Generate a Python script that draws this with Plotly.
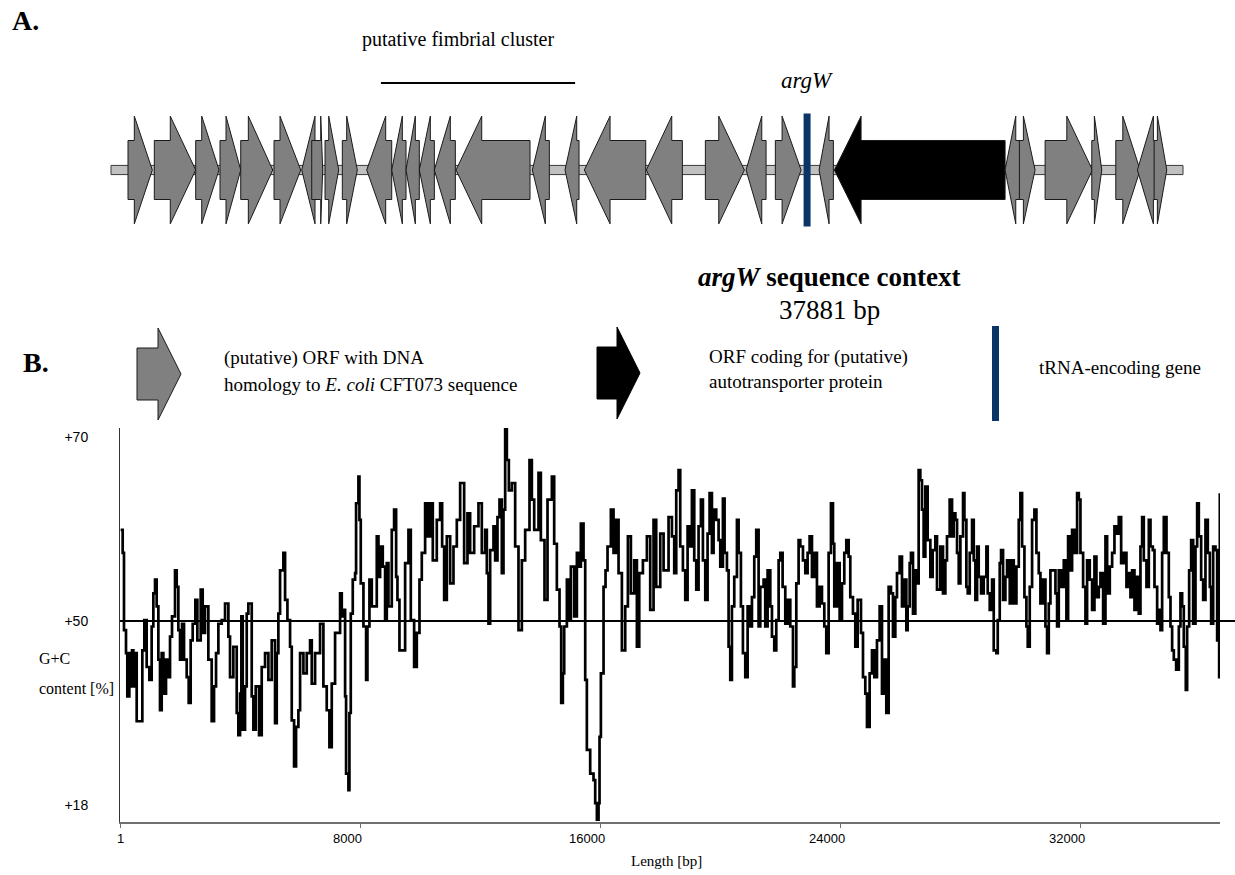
import plotly.graph_objects as go

W, H = 1235, 875

# ---------------- data ----------------
seq_len = 37881  # bp

# G+C profile (sliding window), position [bp] and value on the drawn scale
gc_pos = [22, 89, 133, 200, 244, 311, 356, 400, 444, 500, 556, 689, 744, 811, 889, 978, 1055, 1111, 1167, 1222,
          1278, 1333, 1389, 1444, 1533, 1611, 1667, 1733, 1833, 1889, 1944, 2000, 2066, 2133, 2222, 2289, 2355, 2422,
          2511, 2578, 2689, 2755, 2833, 2944, 3055, 3133, 3200, 3278, 3389, 3500, 3611, 3666, 3777, 3889, 3944, 4000,
          4044, 4089, 4166, 4222, 4277, 4389, 4444, 4522, 4633, 4722, 4833, 4944, 5055, 5166, 5222, 5277, 5333, 5444,
          5500, 5578, 5666, 5722, 5800, 5866, 5944, 6000, 6111, 6222, 6333, 6389, 6500, 6666, 6777, 6888, 6977, 7055,
          7166, 7333, 7389, 7444, 7500, 7533, 7611, 7644, 7689, 7755, 7833, 7866, 7944, 7978, 8022, 8111, 8200, 8244,
          8311, 8389, 8555, 8611, 8666, 8755, 8833, 8889, 8944, 9055, 9133, 9200, 9244, 9311,
          9389, 9500, 9611, 9689, 9800, 9889, 9978, 10055, 10166, 10244, 10333, 10422, 10555, 10666, 10733, 10800,
          10889, 11000, 11111, 11222, 11333, 11466, 11577, 11666, 11800, 11944, 12055, 12166, 12222, 12277, 12333,
          12444, 12500, 12577, 12644, 12722, 12777, 12833, 12889, 12955, 13055, 13166, 13277, 13389, 13500, 13644,
          13722, 13800, 13944, 14022, 14144, 14244, 14389, 14466, 14555, 14644, 14700, 14755, 14800, 14889, 14944,
          15022, 15133, 15222, 15277, 15355, 15444, 15500, 15555, 15666, 15777, 15833, 15889, 15944, 15977, 16022,
          16111, 16177, 16244, 16355, 16444, 16522, 16611, 16722, 16833, 16922, 17022, 17133, 17222, 17300, 17422,
          17555, 17666, 17777, 17866, 18000, 18111, 18277,
          18389, 18466, 18533, 18611, 18666, 18755, 18833, 18911, 19000, 19055, 19133, 19200, 19277, 19355, 19422,
          19500, 19577, 19644, 19722, 19777, 19866, 19944, 20000, 20088, 20144, 20222, 20277, 20333, 20388, 20466,
          20555, 20611, 20688, 20755, 20833, 20911, 21000, 21055, 21133, 21199, 21277, 21333, 21444, 21499, 21577,
          21666, 21722, 21799, 21866, 21944, 22000, 22077, 22166, 22244, 22333, 22422, 22466, 22533, 22610, 22666,
          22755, 22833, 22910, 22977, 23055, 23133, 23221, 23310, 23388, 23466, 23532, 23610, 23688, 23755, 23799,
          23888, 23977, 24055, 24132, 24199, 24277, 24332, 24421, 24499, 24577, 24688, 24755, 24832, 24888, 24977,
          25055, 25132, 25221, 25310, 25388, 25443, 25532, 25610, 25688, 25754, 25832, 25888, 25977, 26054, 26110,
          26199, 26243, 26310, 26354, 26421, 26499, 26554, 26610, 26665, 26721, 26776, 26832, 26910, 26999, 27077,
          27165, 27221, 27332, 27421, 27499, 27554, 27643,
          27722, 27778, 27833, 27889, 27945, 28000, 28089, 28134, 28200, 28245, 28311, 28389, 28445, 28500, 28556,
          28611, 28689, 28778, 28867, 28911, 28978, 29056, 29111, 29200, 29245, 29311, 29356, 29422, 29500, 29556,
          29645, 29722, 29778, 29867, 29945, 30000, 30056, 30134, 30200, 30245, 30311, 30389, 30467, 30533, 30611,
          30667, 30756, 30834, 30889, 30945, 31000, 31089, 31167, 31222, 31278, 31356, 31445, 31533, 31589, 31667,
          31722, 31800, 31889, 31945, 32000, 32089, 32167, 32222, 32311, 32389, 32467, 32533, 32611, 32667, 32756,
          32834, 32889, 32978, 33056, 33133, 33222, 33278, 33356, 33444, 33533, 33611, 33667, 33722, 33800, 33867,
          33944, 34000, 34056, 34111, 34200, 34278, 34334, 34411, 34467, 34556, 34611, 34667, 34722, 34778, 34867,
          34944, 35000, 35055, 35111, 35189, 35278, 35333, 35389, 35444, 35511, 35555, 35622, 35689, 35755, 35833,
          35889, 35944, 36022, 36089, 36166, 36244, 36311, 36355, 36422, 36500, 36555, 36622, 36644]

gc_val = [59.9, 57.4, 49.0, 46.5, 41.8, 46.5, 42.9, 46.8, 42.9, 46.5, 39.1, 39.1, 46.8, 50.1, 45.0, 43.6, 49.4, 53.0, 54.5, 51.6,
          45.8, 40.3, 46.5, 42.1, 45.8, 43.9, 48.3, 50.5, 55.5, 53.7, 49.0, 45.8, 49.7, 45.8, 43.9, 41.1, 47.9, 49.7,
          52.3, 47.9, 53.4, 48.7, 51.6, 45.8, 39.1, 42.9, 46.5, 49.7, 50.1, 51.9, 48.3, 43.9, 47.2, 40.0, 37.6, 42.1,
          50.5, 38.2, 42.9, 50.8, 51.9, 41.8, 38.2, 42.9, 37.6, 45.0, 46.5, 43.6, 47.9, 38.9, 46.5, 50.8, 55.5, 57.4,
          52.3, 50.1, 47.2, 39.2, 34.2, 38.5, 40.3, 46.5, 44.3, 46.5, 47.9, 43.2, 46.5, 49.7, 42.9, 40.3, 36.3, 43.2,
          48.7, 53.0, 50.5, 51.2, 41.8, 33.4, 31.6, 40.0, 50.8, 54.5, 55.2, 62.8, 65.7, 61.0, 54.1, 49.4, 43.6, 49.4,
          54.5, 51.6, 59.2, 54.8, 58.1, 55.9, 50.1, 56.3, 51.6, 59.9, 62.1, 54.8, 52.3, 46.8,
          46.8, 56.3, 59.9, 50.1, 45.0, 48.7, 54.5, 57.4, 62.8, 59.2, 62.8, 56.6, 61.0, 62.8, 58.1, 52.3,
          59.2, 54.1, 58.1, 61.0, 65.0, 56.3, 61.7, 57.4, 60.3, 62.8, 57.4, 59.9, 55.2, 49.7, 57.7,
          60.3, 56.6, 61.3, 63.2, 55.2, 62.1, 70.9, 67.5, 64.2, 65.0, 58.1, 49.0, 56.6, 59.9, 67.5,
          63.2, 59.9, 66.1, 58.8, 52.3, 63.2, 65.7, 58.4, 53.4, 49.4, 41.1, 44.3, 49.4, 54.5, 50.1,
          55.9, 50.5, 57.4, 55.9, 60.6, 56.6, 43.6, 36.0, 33.4, 32.7, 30.2, 28.4, 30.2, 37.4, 44.3,
          53.7, 55.5, 58.1, 62.1, 57.4, 61.0, 55.2, 46.8, 51.6, 59.2, 53.0, 56.6, 47.2, 55.2, 56.6,
          59.2, 51.2, 61.0, 53.7, 59.5, 55.5, 61.3,
          59.2, 55.2, 64.2, 66.4, 58.1, 55.5, 52.3, 60.3, 58.1, 64.2, 56.6, 53.4, 60.3, 63.2, 56.6,
          52.3, 59.5, 63.9, 57.4, 62.1, 61.0, 58.8, 55.9, 63.3, 57.4, 55.5, 47.2, 43.6, 51.6, 54.8,
          61.0, 57.4, 51.6, 46.5, 43.9, 51.6, 49.4, 52.6, 57.0, 59.9, 49.4, 53.7, 54.5, 49.4, 55.5,
          51.6, 48.3, 46.8, 50.1, 56.6, 57.4, 53.7, 49.7, 52.3, 49.4, 42.9, 45.0, 54.1, 58.8, 58.1,
          56.6, 55.2, 57.4, 59.2, 54.8, 57.4, 51.6, 53.7, 51.9, 49.4, 46.5, 57.4, 62.8, 58.4, 51.6,
          56.3, 50.1, 54.1, 57.4, 58.8, 57.0, 52.6, 50.8, 47.2, 52.3, 48.7, 43.9, 42.1, 38.5, 44.3,
          46.8, 43.9, 47.9, 51.6, 42.1, 45.8, 40.0, 53.7, 53.0, 48.3, 52.6, 55.2, 57.0, 51.6, 54.5,
          49.0, 51.6, 56.3, 57.4, 50.8, 55.5, 54.1, 66.4, 65.3, 62.1, 57.0, 64.6, 58.8, 54.8, 57.7,
          59.2, 53.4, 58.1, 53.0, 56.6, 59.2, 63.2,
          59.2, 61.7, 61.0, 57.4, 54.1, 59.2, 63.9, 61.0, 53.7, 53.0, 57.4, 61.0, 56.6, 52.3, 58.1,
          54.8, 53.0, 54.8, 58.1, 53.0, 51.2, 54.5, 46.8, 46.5, 50.1, 56.3, 57.7, 52.3, 54.8, 56.6,
          51.9, 56.6, 51.9, 55.9, 61.0, 63.9, 58.1, 52.6, 49.4, 47.2, 53.7, 61.0, 62.1, 57.4, 55.2,
          51.9, 54.5, 49.4, 46.5, 51.9, 55.5, 55.5, 53.0, 49.4, 55.5, 53.7, 56.6, 50.1, 59.2, 55.5,
          59.9, 57.4, 63.9, 63.2, 57.4, 53.7, 49.7, 56.6, 54.5, 51.2, 57.0, 52.6, 53.7, 55.2, 49.7,
          59.2, 53.0, 55.9, 57.4, 60.3, 59.5, 61.3, 56.3, 57.4, 53.7, 55.2, 52.6, 55.5, 51.2, 54.8,
          50.8, 58.1, 61.3, 56.6, 53.7, 61.0, 58.1, 57.7, 53.7, 49.7, 51.2, 49.0, 57.4, 61.3, 57.4,
          52.6, 49.4, 46.8, 45.8, 44.7, 49.4, 53.0, 51.6, 47.2, 42.5, 49.4, 55.5, 58.8, 49.7, 58.1,
          62.8, 59.2, 54.5, 52.3, 61.0, 57.4, 53.7, 49.7, 58.1, 57.7, 47.9, 43.9, 63.9]

y_tick_vals = [70, 50, 30]
y_tick_text = ["+70", "+50", "+18"]
x_tick_vals = [1, 8000, 16000, 24000, 32000]
x_tick_text = ["1", "8000", "16000", "24000", "32000"]

# gene map (bp): start, end, strand, arrow-head length, kind
gene_start = [601, 1530, 2993, 3852, 4584, 5760, 6739, 7093, 7563, 8174, 9036, 9920, 10425, 10895, 11426, 12192,
              14889, 16044, 16727, 18917, 21003, 22441, 23476, 25021, 25561, 31594, 32099, 33008, 34658, 35506,
              36270, 36860]
gene_end = [1460, 2993, 3817, 4584, 5715, 6704, 7245, 7481, 8047, 8704, 9920, 10425, 10895, 11426, 12168, 14807,
            15490, 16539, 18896, 20190, 22381, 23148, 24385, 25527, 31594, 32124, 32654, 34680, 35011, 36365,
            36895, 37308]
gene_strand = [1, 1, 1, 1, 1, 1, -1, 1, 1, 1, -1, -1, -1, -1, -1, -1,
               -1, -1, -1, -1, 1, -1, 1, -1, -1, -1, 1, 1, 1, 1, -1, 1]
gene_head = [636, 898, 611, 520, 862, 732, 470, 70, 353, 375, 671, 375, 329, 389, 565, 908,
             459, 413, 908, 898, 905, 555, 671, 353, 944, 378, 413, 905, 262, 611, 565, 332]
gene_kind = ["orf"] * 24 + ["auto"] + ["orf"] * 7
trna_pos = 24597
fimbrial_start, fimbrial_end = 9540, 16400

# ---------------- styling helpers ----------------
GRAY = "#808080"
NAVY = "#0b3566"
SERIF = "Liberation Serif, Times New Roman, serif"
SANS = "Liberation Sans, Arial, sans-serif"


def px(x):
    return x / W


def py(y):
    return 1 - y / H


fig = go.Figure()

# G+C profile
fig.add_trace(go.Scatter(x=gc_pos, y=gc_val, mode="lines", line_shape="hv",
                         line=dict(color="black", width=2.7), xaxis="x", yaxis="y",
                         hoverinfo="skip", showlegend=False))

shapes = []
annotations = []

# ---- gene map (axes x2 / y2) ----
BODY = 0.548
BB = 0.085
shapes.append(dict(type="rect", xref="x2", yref="y2", x0=0, x1=seq_len, y0=-BB, y1=BB,
                   fillcolor="#c0c0c0", line=dict(color="#3a3a3a", width=1), layer="above"))
for s, e, st, h, k in zip(gene_start, gene_end, gene_strand, gene_head, gene_kind):
    h = min(h, e - s)
    if st > 0:
        b = e - h
        pts = [(s, -BODY), (b, -BODY), (b, -1), (e, 0), (b, 1), (b, BODY), (s, BODY)]
    else:
        b = s + h
        pts = [(e, -BODY), (b, -BODY), (b, -1), (s, 0), (b, 1), (b, BODY), (e, BODY)]
    path = "M " + " L ".join(f"{x},{y}" for x, y in pts) + " Z"
    fill = "black" if k == "auto" else GRAY
    shapes.append(dict(type="path", xref="x2", yref="y2", path=path, fillcolor=fill,
                       line=dict(color="#1a1a1a", width=1), layer="above"))
shapes.append(dict(type="line", xref="x2", yref="y2", x0=trna_pos, x1=trna_pos, y0=-1.05, y1=1.05,
                   line=dict(color=NAVY, width=7), layer="above"))
# fimbrial cluster bar
shapes.append(dict(type="line", xref="x2", yref="paper", x0=fimbrial_start, x1=fimbrial_end,
                   y0=py(83), y1=py(83), line=dict(color="black", width=2)))
annotations.append(dict(xref="x2", yref="paper", x=(fimbrial_start + fimbrial_end) / 2 - 700, y=py(40),
                        xanchor="center", yanchor="middle",
                        text="putative fimbrial cluster", showarrow=False,
                        font=dict(family=SERIF, size=20, color="black")))
annotations.append(dict(xref="x2", yref="paper", x=trna_pos, y=py(81), xanchor="center", yanchor="middle",
                        text="<i>argW</i>", showarrow=False,
                        font=dict(family=SERIF, size=23, color="black")))

# ---- legend glyphs (paper) ----
def arrow_path(x0, xb, xt, yc, hb, hh):
    pts = [(x0, yc - hb), (xb, yc - hb), (xb, yc - hh), (xt, yc), (xb, yc + hh), (xb, yc + hb), (x0, yc + hb)]
    return "M " + " L ".join(f"{px(x)},{py(y)}" for x, y in pts) + " Z"


shapes.append(dict(type="path", xref="paper", yref="paper", path=arrow_path(137, 158, 181, 374, 26, 46),
                   fillcolor=GRAY, line=dict(color="#1a1a1a", width=1)))
shapes.append(dict(type="path", xref="paper", yref="paper", path=arrow_path(597, 617, 640, 373, 26, 46),
                   fillcolor="black", line=dict(color="black", width=1)))
shapes.append(dict(type="line", xref="paper", yref="paper", x0=px(995.5), x1=px(995.5), y0=py(326), y1=py(421),
                   line=dict(color=NAVY, width=7)))

# ---- 50 % reference line ----
shapes.append(dict(type="line", xref="paper", yref="y", x0=px(120), x1=1.0, y0=50, y1=50,
                   line=dict(color="black", width=2), layer="above"))


def txt(x, y, text, size, anchor="left", family=SERIF):
    annotations.append(dict(xref="paper", yref="paper", x=px(x), y=py(y), text=text, showarrow=False,
                            xanchor=anchor, yanchor="middle", font=dict(family=family, size=size, color="black")))


txt(10, 20, "<b>A.</b>", 28)
txt(21, 362, "<b>B.</b>", 28)
txt(829, 277, "<b><i>argW</i> sequence context</b>", 27, "center")
txt(829, 310, "37881 bp", 27, "center")
txt(222, 358, "(putative) ORF with DNA", 19)
txt(222, 384, "homology to <i>E. coli</i> CFT073 sequence", 19)
txt(707, 357, "ORF coding for (putative)", 19)
txt(707, 381, "autotransporter protein", 19)
txt(1037, 367, "tRNA-encoding gene", 19)
txt(37, 658, "G+C", 16)
txt(37, 688, "content [%]", 16)
txt(666, 861, "Length [bp]", 15, "center")

# x tick labels (drawn slightly left of the tick, as in the original)
for v, t in zip(x_tick_vals, x_tick_text):
    annotations.append(dict(xref="x", yref="paper", x=v, y=py(838), text=t, showarrow=False,
                            xanchor="center", yanchor="middle", xshift=0 if v == 1 else -13,
                            font=dict(family=SANS, size=13, color="black")))

fig.update_layout(
    width=W, height=H,
    margin=dict(l=0, r=0, t=0, b=0),
    paper_bgcolor="white", plot_bgcolor="white",
    showlegend=False,
    xaxis=dict(domain=[px(120), px(1220)], range=[0, 36650], anchor="y",
               showline=True, linecolor="#707070", linewidth=2, showgrid=False, zeroline=False,
               tickvals=x_tick_vals, showticklabels=False, ticks="outside", ticklen=4,
               tickcolor="#707070", tickwidth=1),
    yaxis=dict(domain=[py(822), py(428)], range=[28.15, 70.98], anchor="x",
               showline=True, linecolor="#333333", linewidth=1, showgrid=False, zeroline=False,
               tickvals=y_tick_vals, ticktext=y_tick_text, ticks="",
               ticklabelstandoff=28, tickfont=dict(family=SANS, size=14, color="black")),
    xaxis2=dict(domain=[px(105.34), px(1189.2)], range=[-200, 38100], anchor="y2", visible=False),
    yaxis2=dict(domain=[py(240), py(100)], range=[-1.3, 1.3], anchor="x2", visible=False),
    shapes=shapes,
    annotations=annotations,
)

fig.write_html("out.html", config={"displayModeBar": False},
               post_script="document.body.style.margin='0px';document.body.style.overflow='hidden';")
